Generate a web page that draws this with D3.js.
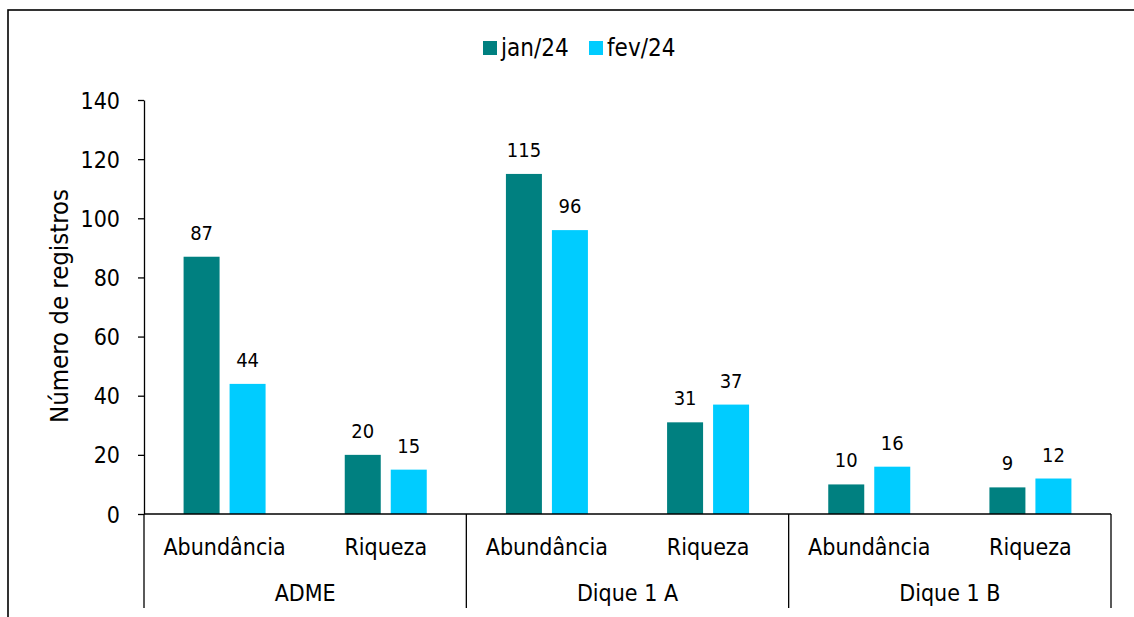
<!DOCTYPE html>
<html><head><meta charset="utf-8">
<script src="https://cdn.jsdelivr.net/npm/d3@7"></script>
<style>
html,body{margin:0;padding:0;background:#fff;}
svg text{font-family:"DejaVu Sans Condensed","DejaVu Sans","Liberation Sans",sans-serif;fill:#000;}
</style></head>
<body>
<svg id="c" width="1134" height="617"></svg>
<script>
const groups = ["ADME", "Dique 1 A", "Dique 1 B"];
const measures = ["Abundância", "Riqueza"];
const seriesNames = ["jan/24", "fev/24"];
const janValues = [87, 20, 115, 31, 10, 9];
const fevValues = [44, 15, 96, 37, 16, 12];
const yTicks = [0, 20, 40, 60, 80, 100, 120, 140];
const colors = ["#008080", "#00CCFF"];
const yTitle = "Número de registros";

const rows = [];
groups.forEach((g, gi) => measures.forEach((m, mi) => {
  const i = gi * measures.length + mi;
  rows.push({group: g, measure: m, values: [janValues[i], fevValues[i]]});
}));

const svg = d3.select("#c");
const pLeft = 144, pRight = 1111, pTop = 100, pBottom = 514;

svg.append("rect").attr("x", 8).attr("y", 10).attr("width", 1140).attr("height", 640)
  .attr("fill", "none").attr("stroke", "#000").attr("stroke-width", 1.6);

const x0 = d3.scaleBand().domain(groups).range([pLeft, pRight]);
const x1 = d3.scaleBand().domain(measures).range([0, x0.bandwidth()]);
const x2 = d3.scaleBand().domain(seriesNames).range([-41, 41]).paddingInner(0.2174);
const y = d3.scaleLinear().domain([0, 140]).range([pBottom, pTop]);

// bars
const cat = svg.append("g").selectAll("g").data(rows).join("g")
  .attr("transform", d => `translate(${x0(d.group) + x1(d.measure) + x1.bandwidth() / 2},0)`);
cat.selectAll("rect").data(d => d.values.map((v, k) => ({v, s: seriesNames[k], k})))
  .join("rect")
  .attr("x", d => x2(d.s)).attr("width", x2.bandwidth())
  .attr("y", d => y(d.v)).attr("height", d => y(0) - y(d.v))
  .attr("fill", d => colors[d.k]);
cat.selectAll("text").data(d => d.values.map((v, k) => ({v, s: seriesNames[k], k})))
  .join("text")
  .attr("x", d => x2(d.s) + x2.bandwidth() / 2).attr("y", d => y(d.v) - 17)
  .attr("text-anchor", "middle").style("font-size", "20px").text(d => d.v);

// y axis
const ya = svg.append("g").attr("transform", `translate(${pLeft},0)`)
  .call(d3.axisLeft(y).tickValues(yTicks).tickSize(6).tickSizeOuter(0).tickPadding(18));
ya.select(".domain").attr("stroke", "#000").attr("stroke-width", 1.3);
ya.selectAll(".tick line").attr("stroke", "#000").attr("stroke-width", 1.3);
ya.selectAll(".tick text").style("font-size", "23px").attr("dy", "0.35em");

// x axis line and separators
svg.append("line").attr("x1", pLeft).attr("x2", pRight).attr("y1", pBottom).attr("y2", pBottom)
  .attr("stroke", "#000").attr("stroke-width", 1.3);
const seps = groups.map(g => x0(g)).concat([x0(groups[groups.length - 1]) + x0.bandwidth()]);
svg.append("g").selectAll("line").data(seps).join("line")
  .attr("x1", d => d).attr("x2", d => d).attr("y1", pBottom).attr("y2", 608)
  .attr("stroke", "#000").attr("stroke-width", 1.3);

// category labels
svg.append("g").selectAll("text").data(rows).join("text")
  .attr("x", d => x0(d.group) + x1(d.measure) + x1.bandwidth() / 2).attr("y", 555)
  .attr("text-anchor", "middle").style("font-size", "23px").text(d => d.measure);
svg.append("g").selectAll("text").data(groups).join("text")
  .attr("x", d => x0(d) + x0.bandwidth() / 2).attr("y", 601)
  .attr("text-anchor", "middle").style("font-size", "23px").text(d => d);

// y title
svg.append("text").attr("transform", "translate(68,306) rotate(-90)")
  .attr("text-anchor", "middle").style("font-size", "25.5px").text(yTitle);

// legend
const legX = [483, 589];
const leg = svg.append("g").selectAll("g").data(seriesNames).join("g")
  .attr("transform", (d, i) => `translate(${legX[i]},41)`);
leg.append("rect").attr("width", 14).attr("height", 14).attr("fill", (d, i) => colors[i]);
leg.append("text").attr("x", 18).attr("y", 15).style("font-size", "24px").text(d => d);
</script>
</body></html>
